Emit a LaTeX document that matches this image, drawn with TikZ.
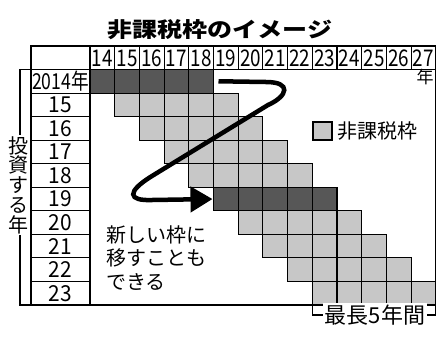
\documentclass[tikz,border=0pt]{standalone}
\usepackage{graphicx}
\usepackage{fontspec}
\newfontfamily\jp{Noto Sans CJK JP}
\usetikzlibrary{arrows.meta}
\definecolor{lightcell}{gray}{0.78}
\definecolor{darkcell}{gray}{0.34}
\tikzset{
  frame/.style={draw=black, line width=1.1pt},
  cellbox/.style={draw=black, line width=1.1pt, minimum width=24.7pt, minimum height=23.55pt, inner sep=0pt, outer sep=0pt},
  hdrtxt/.style={font=\jp\fontsize{23}{23}\selectfont, inner sep=0pt},
  rowtxt/.style={font=\jp\fontsize{22}{22}\selectfont, inner sep=0pt},
  jptxt/.style={font=\jp\fontsize{20}{23.5}\selectfont, inner sep=0pt},
  arrowline/.style={line width=4.5pt, -{Triangle[length=22pt,width=25pt]}}
}
\begin{document}
\begin{tikzpicture}[x=1pt,y=-1pt]
\useasboundingbox (0,0) rectangle (445,338);
\def\xo{90}
\def\w{24.7}
\def\yo{69.5}
\def\h{23.55}
% title
\node[font=\jp\bfseries\fontsize{25}{25}\selectfont, inner sep=0pt] (title) at (220,29.5) {\scalebox{1}[0.84]{非課税枠のイメージ}};
% frame and header
\draw[frame] (31,46) rectangle (435.8,305);
\draw[frame] (31,\yo) -- (435.8,\yo);
\foreach \i in {0,...,13}{\draw[frame] (\xo+\i*\w,46) -- (\xo+\i*\w,\yo);}
\foreach \i [evaluate=\i as \yr using int(14+\i)] in {0,...,13}{
  \node[hdrtxt] (h\i) at (\xo+\i*\w+\w/2,58) {\scalebox{0.82}[1]{\yr}};
}
\node[font=\jp\fontsize{17}{17}\selectfont, inner sep=0pt] (nen) at (425,77) {年};
% label column
\draw[frame] (\xo,\yo) -- (\xo,305);
\foreach \r in {1,...,9}{\draw[frame] (31,\yo+\r*\h) -- (\xo,\yo+\r*\h);}
\node[rowtxt] (l0) at (60.5,\yo+0.5*\h) {\scalebox{0.8}[1]{2014年}};
\foreach \r [evaluate=\r as \yr using int(14+\r)] in {1,...,9}{
  \node[rowtxt] (l\r) at (60.5,\yo+\r*\h+0.5*\h) {\scalebox{0.95}[1]{\yr}};
}
% cells
\foreach \r in {0,...,9}{
  \foreach \k in {0,...,4}{
    \pgfmathtruncatemacro\cc{\r+\k}
    \ifnum\r=0 \def\fc{darkcell}\else\ifnum\r=5 \def\fc{darkcell}\else\def\fc{lightcell}\fi\fi
    \node[cellbox, fill=\fc] (c-\r-\k) at (\xo+\cc*\w+\w/2,\yo+\r*\h+\h/2) {};
  }
}
% investment year bracket
\draw[frame] (31,\yo) -- (20,\yo) -- (20,305) -- (31,305);
\node[font=\jp\fontsize{20}{19.8}\selectfont, fill=white, inner sep=1pt, align=center] (inv) at (19,185) {投\\資\\す\\る\\年};
% legend
\node[cellbox, fill=lightcell, minimum width=19pt, minimum height=18pt] (leg) at (322.5,131) {};
\node[jptxt, anchor=west] (legt) at (337,131) {非課税枠};
% arrow
\coordinate (aS) at ([xshift=5pt]c-0-4.east);
\draw[arrowline] (aS) -- (266,82) .. controls (292,82) and (288,96) .. (268,105) -- (152,176) .. controls (126,192) and (128,201) .. (152,200) -- ([xshift=-1pt]c-5-0.west);
% note
\node[jptxt, anchor=west, align=left] (note) at (106,258) {新しい枠に\\移すことも\\できる};
% max 5 years bracket
\draw[frame] (c-9-0.south west) -- ++(0,10) -- (435.8,315) -- (435.8,305);
\node[font=\jp\fontsize{22}{22}\selectfont, fill=white, inner sep=2pt] (max5) at (375,315) {最長5年間};
\end{tikzpicture}
\end{document}
